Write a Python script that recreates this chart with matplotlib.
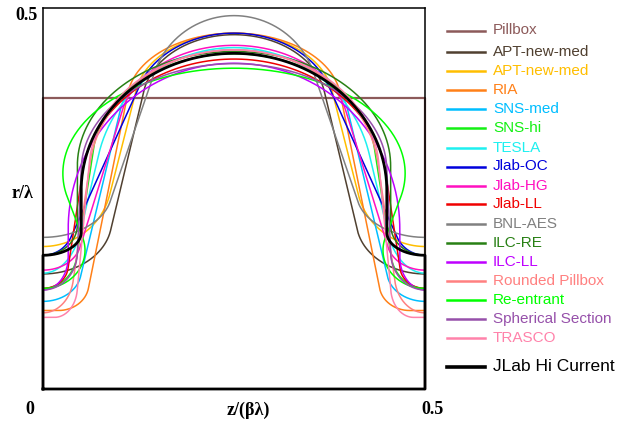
import numpy as np
import matplotlib.pyplot as plt
from matplotlib.lines import Line2D

# cavity half-cell geometry, normalised: r/lambda and z/(beta*lambda)
names = ['APT-new-med', 'APT-new-med', 'RIA', 'SNS-med', 'SNS-hi', 'TESLA',
         'Jlab-OC', 'Jlab-HG', 'Jlab-LL', 'BNL-AES', 'ILC-RE', 'ILC-LL',
         'Rounded Pillbox', 'Re-entrant', 'Spherical Section', 'TRASCO',
         'JLab Hi Current']
r_iris = [0.151, 0.187, 0.103, 0.115, 0.132, 0.152, 0.1755, 0.156, 0.132,
          0.199, 0.1755, 0.130, 0.100, 0.132, 0.130, 0.094, 0.1755]
r_equator = [0.465, 0.467, 0.467, 0.445, 0.440, 0.448, 0.467, 0.451, 0.433,
             0.490, 0.443, 0.4275, 0.445, 0.421, 0.427, 0.445, 0.4405]
iris_a = [0.09, 0.09, 0.04, 0.05, 0.045, 0.052, 0.04, 0.05, 0.033,
          0.09, 0.045, 0.033, 0.04, 0.055, 0.045, 0.03, 0.05]
iris_b = [0.07, 0.09, 0.035, 0.04, 0.05, 0.0824, 0.04, 0.04, 0.03,
          0.06, 0.04, 0.0434, 0.05, 0.05, 0.05, 0.04, 0.03]
iris_flat = [0, 0, 0.02, 0, 0, 0, 0, 0, 0, 0, 0, 0, 0, 0, 0, 0.015, 0]
eq_A = [0.12, 0.13, 0.14, 0.15, 0.185, 0.182, 0.13, 0.15, 0.2,
        0.11, 0.205, 0.217, 0.19, 0.224, 0.2, 0.19, 0.2]
eq_B = [0.09, 0.09, 0.09, 0.09, 0.14, 0.182, 0.1, 0.11, 0.17,
        0.11, 0.15, 0.217, 0.17, 0.138, 0.14, 0.16, 0.18]
pillbox_r = 0.382

colors = ['#504030', '#FFBE00', '#FF8018', '#00BEFF', '#14F014', '#1EF0F0',
          '#0000DC', '#FF10C0', '#F00000', '#808080', '#288014', '#BE00FF',
          '#FF8080', '#00FF00', '#9650AA', '#FF82AA', 'black']
pillbox_color = '#8C5A5A'


def half_cell(ri, req, a, b, A, B, flat):
    c1 = np.array([flat, ri + b])
    c2 = np.array([0.25, req - B])
    d = c2 - c1
    al = np.linspace(-np.pi / 2 + 1e-4, np.pi / 2 - 1e-4, 20001)
    nx, ny = np.cos(al), np.sin(al)
    f = nx * d[0] + ny * d[1] - np.sqrt(a**2 * nx**2 + b**2 * ny**2) \
        - np.sqrt(A**2 * nx**2 + B**2 * ny**2)
    roots = np.where(np.sign(f[:-1]) != np.sign(f[1:]))[0]
    for i in roots:
        n = np.array([nx[i], ny[i]])
        h1 = np.sqrt(a**2 * n[0]**2 + b**2 * n[1]**2)
        h2 = np.sqrt(A**2 * n[0]**2 + B**2 * n[1]**2)
        t1 = c1 + np.array([a**2 * n[0], b**2 * n[1]]) / h1
        t2 = c2 - np.array([A**2 * n[0], B**2 * n[1]]) / h2
        if np.dot(t2 - t1, [-n[1], n[0]]) > 0:
            break
    s1 = np.arctan2((t1[1] - c1[1]) / b, (t1[0] - c1[0]) / a)
    s2 = np.arctan2((t2[1] - c2[1]) / B, (t2[0] - c2[0]) / A)
    if s2 < 0:
        s2 += 2 * np.pi
    u = np.linspace(-np.pi / 2, s1, 80)
    w = np.linspace(s2, np.pi / 2, 120)
    z = np.concatenate([[0], c1[0] + a * np.cos(u), c2[0] + A * np.cos(w)])
    r = np.concatenate([[ri], c1[1] + b * np.sin(u), c2[1] + B * np.sin(w)])
    return z, r


fig = plt.figure(figsize=(6.28, 4.24), dpi=100)
ax = fig.add_axes([43 / 628, 1 - 389 / 424, 382 / 628, 381 / 424])
ax.set_xlim(0, 0.5)
ax.set_ylim(0, 0.5)
ax.set_xticks([])
ax.set_yticks([])
for s in ax.spines.values():
    s.set_linewidth(1.1)

ax.plot([0, 0, 0.5, 0.5], [0, pillbox_r, pillbox_r, 0], color=pillbox_color,
        lw=1.6, clip_on=False)

for i in range(len(names)):
    z, r = half_cell(r_iris[i], r_equator[i], iris_a[i], iris_b[i],
                     eq_A[i], eq_B[i], iris_flat[i])
    zz = np.concatenate([[0], z, 0.5 - z[::-1], [0.5, 0.5, 0]])
    rr = np.concatenate([[0], r, r[::-1], [0, 0, 0]])
    lw = 2.0 if names[i] == 'JLab Hi Current' else 1.1
    ax.plot(zz, rr, color=colors[i], lw=lw, clip_on=False)

serif = ['Liberation Serif', 'DejaVu Serif']
fig.text(27 / 628, 1 - 15 / 424, '0.5', family=serif, weight='bold',
         fontsize=13, ha='center', va='center')
fig.text(23 / 628, 1 - 193 / 424, 'r/λ', family=serif, weight='bold',
         fontsize=13, ha='center', va='center')
fig.text(30 / 628, 1 - 409 / 424, '0', family=serif, weight='bold',
         fontsize=13, ha='center', va='center')
fig.text(248 / 628, 1 - 410 / 424, 'z/(βλ)', family=serif, weight='bold',
         fontsize=13, ha='center', va='center')
fig.text(432 / 628, 1 - 409 / 424, '0.5', family=serif, weight='bold',
         fontsize=13, ha='center', va='center')

# legend drawn by hand
legend_y = [52, 71, 90, 109, 128, 147.5, 166.5, 185.5, 204.5, 224, 243,
            262, 281, 300, 319, 338, 366.5]
sans = ['Liberation Sans', 'DejaVu Sans']


def legend_row(y, label, color, lw, size):
    fy = 1 - y / 424
    fig.add_artist(Line2D([447 / 628, 485 / 628], [fy, fy], color=color,
                          lw=lw, transform=fig.transFigure))
    fig.text(493 / 628, fy, label, color=color, family=sans, fontsize=size,
             va='center', ha='left')


legend_row(30.5, 'Pillbox', pillbox_color, 1.8, 11)
for i in range(len(names)):
    big = names[i] == 'JLab Hi Current'
    legend_row(legend_y[i], names[i], colors[i], 2.6 if big else 1.8,
               12.5 if big else 11)

fig.savefig('out.png', dpi=100)
